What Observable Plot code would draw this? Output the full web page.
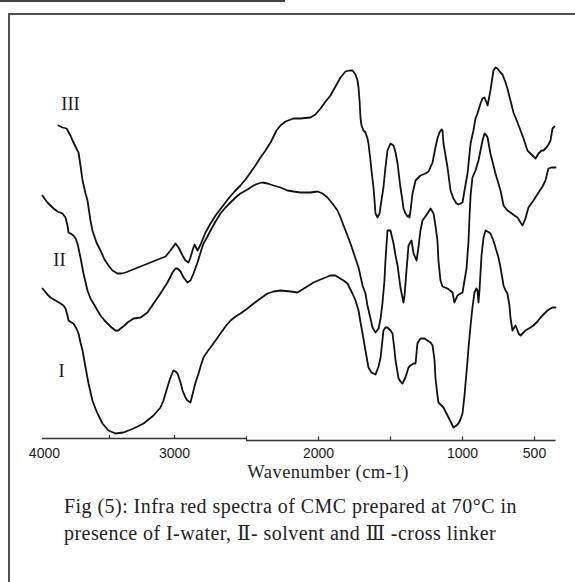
<!DOCTYPE html>
<html>
<head>
<meta charset="utf-8">
<script src="https://cdn.jsdelivr.net/npm/d3@7"></script>
<script src="https://cdn.jsdelivr.net/npm/@observablehq/plot@0.6"></script>
<style>
  html, body { margin: 0; padding: 0; background: #fff; }
  #page { position: relative; width: 575px; height: 582px; overflow: hidden; background: #fff; }
  #topline { position: absolute; left: 0; top: 0; width: 285px; height: 2px; background: #444; }
  #frame { position: absolute; left: 8px; top: 13px; width: 700px; height: 700px;
           border-left: 2px solid #505050; border-top: 2px solid #505050; }
  #chart { position: absolute; left: 0; top: 0; }
  #xlabel { position: absolute; left: 228px; top: 463px; width: 200px; text-align: center;
            font-family: "Liberation Serif", "DejaVu Serif", serif; font-size: 18.5px;
            line-height: 18.5px; letter-spacing: 0.5px; color: #222; white-space: nowrap; }
  #caption { position: absolute; left: 64px; top: 493px; font-family: "Liberation Serif", "DejaVu Serif", serif;
             font-size: 20px; line-height: 27px; letter-spacing: 0.45px; color: #222; white-space: nowrap; }
</style>
</head>
<body>
<div id="page">
  <div id="topline"></div>
  <div id="frame"></div>
  <div id="chart"></div>
  <div id="xlabel"></div>
  <div id="caption"></div>
</div>
<script>
// IR spectra of CMC: [wavenumber (cm-1), transmittance (a.u., curves offset)]
const spectrumIII = [
  [3892,78.75],[3861,78.25],[3830,78],[3800,76.25],[3784,75],[3754,73],[3738,72],[3723,68.75],
  [3707,65],[3684,61.75],[3669,60],[3646,55],[3631,52.5],[3600,49.5],[3569,47.5],[3538,45.25],
  [3508,43.75],[3477,42.5],[3438,41.75],[3408,41.75],[3377,42],[3300,43],[3185,44.5],[3069,46],
  [3031,47.5],[2993,49.25],[2972,48.25],[2944,46.25],[2924,45],[2903,44.5],[2889,45.75],[2875,47.5],
  [2861,49],[2847,48],[2840,47.5],[2819,49],[2785,52],[2750,54.25],[2715,56.25],[2667,58.5],
  [2625,60.5],[2583,62.25],[2542,63.75],[2507,65.25],[2472,67],[2438,68.75],[2403,70.75],[2368,72.5],
  [2333,74.5],[2312,76],[2292,77.5],[2264,78.75],[2229,79.75],[2174,80.5],[2125,80.5],[2056,80.75],
  [2021,81.5],[1986,83],[1951,84.75],[1917,86.25],[1882,88.5],[1847,90.75],[1813,92.25],[1785,92.5],
  [1764,92.5],[1743,91.5],[1729,90],[1722,88.25],[1715,85],[1708,80.5],[1701,78.75],[1688,77.5],
  [1674,77],[1660,75.5],[1653,74.25],[1639,70],[1632,67.5],[1618,63.25],[1611,60],[1604,56.75],
  [1590,55.75],[1576,56.75],[1563,60],[1549,63.25],[1535,68.25],[1521,72.5],[1500,74.25],[1479,73.75],
  [1465,72],[1451,69.25],[1431,63.25],[1417,60],[1410,58],[1396,56.75],[1382,56],[1375,56.25],
  [1368,55.75],[1361,57.5],[1347,61.75],[1326,65],[1292,66.25],[1257,66.75],[1236,67.25],[1208,69.5],
  [1188,73.25],[1174,75.5],[1160,77],[1146,77.75],[1139,77.5],[1132,74.25],[1118,71.25],[1104,68.25],
  [1083,62.5],[1063,60.5],[1042,59.25],[1028,59],[1014,59.25],[1000,59.5],[986,62.5],[965,66.75],
  [944,74.25],[924,77.5],[910,80.5],[896,81.75],[875,84.25],[861,85.5],[847,85.75],[833,84.5],
  [826,83.75],[819,85],[806,87.5],[785,92.5],[771,93.25],[757,93],[736,92],[722,91.5],
  [701,89.5],[688,88],[667,85],[646,82],[618,79.5],[597,77.5],[576,75.5],[549,72.5],
  [528,71.75],[514,71.25],[493,70.5],[472,71.75],[451,72.5],[438,72.5],[417,73.25],[403,74],
  [389,75],[375,78],[361,78.5]
];

const spectrumII = [
  [4015,61.25],[4000,60.5],[3977,59.5],[3954,58.75],[3930,58],[3900,57.25],[3861,56.75],[3838,55.75],
  [3823,53.75],[3815,52],[3800,51.75],[3777,51.25],[3761,50.5],[3746,49.25],[3723,45.75],[3700,41.75],
  [3669,37.5],[3646,35.5],[3623,34.25],[3592,32.5],[3569,31.25],[3538,30],[3515,29.25],[3484,28.25],
  [3454,27.5],[3431,27.5],[3415,28],[3384,28.75],[3361,29.5],[3315,30.5],[3261,30.75],[3208,32],
  [3161,34.25],[3108,36.75],[3054,39.5],[3015,42],[2993,43],[2979,43],[2958,42.25],[2937,40.75],
  [2910,39.5],[2889,40],[2868,41.75],[2840,44.5],[2819,47],[2799,49.25],[2771,51],[2750,52.5],
  [2715,54.75],[2681,56.75],[2646,58.25],[2611,59.5],[2576,60.75],[2542,61.75],[2493,62.75],[2451,63.75],
  [2417,64.25],[2389,64.5],[2354,64.25],[2312,63.75],[2264,63.25],[2215,62.5],[2174,62.25],[2125,62],
  [2056,62],[2007,62.25],[1972,61.75],[1938,60.75],[1903,59.25],[1868,57.5],[1847,55.75],[1826,53.75],
  [1799,51.25],[1778,49.25],[1750,46.25],[1722,43.25],[1694,38.75],[1674,36.75],[1660,33.75],[1639,30.5],
  [1625,28.25],[1604,27],[1583,28],[1569,30.5],[1556,34.25],[1542,40],[1535,45],[1528,48.75],
  [1521,52.5],[1500,52.5],[1479,49.25],[1465,46.25],[1451,43.75],[1431,38.25],[1417,35.75],[1410,34.5],
  [1403,36],[1396,39.25],[1389,42.5],[1382,45.5],[1375,48.75],[1354,50],[1340,46.75],[1319,45],
  [1306,48.25],[1292,52.5],[1278,55],[1243,56.75],[1222,58],[1201,56.75],[1188,53.75],[1174,50],
  [1167,45],[1153,40],[1139,38.5],[1104,38],[1069,37],[1056,34.5],[1035,36.25],[1014,36.75],
  [1000,37],[986,40],[972,43],[958,50],[951,56.25],[944,61.25],[931,65.75],[910,67.5],
  [889,70],[875,72.5],[861,75],[847,76.75],[833,76.25],[826,75.75],[806,71.75],[785,68.75],
  [771,66.75],[736,62.5],[715,58.75],[688,57.5],[667,57],[639,56.25],[618,55.75],[597,54.5],
  [583,53.75],[563,55.5],[542,58.25],[507,60],[472,62],[444,63.5],[424,65],[403,68],
  [382,68.25],[354,68.25]
];

const spectrumI = [
  [4015,38],[3984,36.75],[3954,35.75],[3915,35],[3877,34.25],[3854,33.75],[3838,33],[3823,31.25],
  [3815,30],[3792,29.5],[3777,29.25],[3754,28],[3738,26.75],[3723,24.5],[3707,22.5],[3684,18.25],
  [3661,14.25],[3631,10],[3608,8],[3592,6.75],[3554,4.25],[3508,2.5],[3454,1.75],[3392,2],
  [3315,3],[3238,4.25],[3161,6.25],[3108,8.25],[3085,10],[3069,11.75],[3046,14.25],[3031,15.75],
  [3008,17.5],[2993,17.25],[2979,16.75],[2958,14.5],[2944,12.5],[2924,10.75],[2910,10],[2889,9.5],
  [2868,12.5],[2854,14.5],[2833,16.75],[2819,18.5],[2799,20.75],[2771,22.25],[2750,23.25],[2715,25],
  [2681,26.75],[2646,28.5],[2611,30],[2576,31],[2542,31.75],[2493,33],[2451,34.25],[2403,35.5],
  [2354,36.75],[2312,37.25],[2264,37.5],[2194,37.25],[2146,37],[2090,38.25],[2035,39.5],[1986,40.25],
  [1917,41.25],[1882,41.25],[1861,40.75],[1826,40],[1799,39.25],[1764,36.75],[1743,35],[1722,32.5],
  [1708,29.5],[1694,26.75],[1674,22.5],[1653,18.25],[1632,17],[1604,16.5],[1583,18.5],[1569,20.75],
  [1556,25],[1549,27.5],[1535,28.25],[1521,28.25],[1500,27.5],[1486,26.75],[1472,22.5],[1465,20],
  [1451,17],[1444,15.5],[1431,14.75],[1417,14.25],[1396,15.75],[1375,18.25],[1361,18.75],[1340,19.25],
  [1326,19.25],[1319,22],[1313,24.25],[1292,25.5],[1264,25.5],[1243,25],[1222,24.5],[1208,23.75],
  [1194,20],[1188,15.75],[1174,11.25],[1167,9.5],[1153,9],[1132,8.25],[1111,6.75],[1097,5.75],
  [1076,4.25],[1063,3.25],[1042,3.75],[1028,4.25],[1014,5.25],[1000,6.75],[986,11.25],[979,14.25],
  [965,20],[958,23.25],[944,28.75],[931,33.25],[917,37],[903,38],[896,37.5],[889,34.5],
  [882,37.5],[868,46.25],[854,50.75],[840,52.5],[826,52.25],[806,51.75],[785,50],[771,48.25],
  [750,45.75],[736,43.25],[715,38.75],[701,37.5],[688,36.75],[674,33.75],[667,30.75],[653,27.5],
  [632,28.75],[618,27.5],[611,26.75],[597,26.25],[576,27],[563,27.5],[528,28.25],[507,28.75],
  [479,29.75],[458,30.75],[431,31.75],[410,32.5],[389,33],[375,33.25],[354,33.25]
];

// Curve names and where they sit beside each trace
const seriesNames = ["III", "II", "I"];
const seriesLabelAt = [[3800, 84], [3885, 45], [3869, 17.25]];

// Wavenumber axis: labelled values and tick marks (the instrument changes scale at 2500)
const tickLabels = [4000, 3000, 2000, 1000, 500];
const ticksHigh = [3500, 3000];
const ticksLow = [2500, 2000, 1500, 1000, 500];

const labelData = seriesNames.map((name, i) => ({name, w: seriesLabelAt[i][0], t: seriesLabelAt[i][1]}));

const ink = "#111";
const axisInk = "#333";

const chart = Plot.plot({
  width: 575,
  height: 470,
  marginLeft: 42,
  marginRight: 19,
  marginTop: 0,
  marginBottom: 30,
  x: {type: "linear", domain: [4015, 3000, 350], range: [42, 174, 555.6]},
  y: {domain: [0, 110], axis: null},
  marks: [
    // axis baseline: upper segment 4000–2500, lower segment 2500–350
    Plot.ruleY([0], {x1: 4015, x2: 2500, dy: -2, stroke: axisInk, strokeWidth: 1.4}),
    Plot.ruleY([0], {x1: 2500, x2: 350, stroke: axisInk, strokeWidth: 1.4}),
    Plot.ruleX(ticksHigh, {y1: 0, y2: 0.75, dy: -2, stroke: axisInk, strokeWidth: 1.3}),
    Plot.ruleX(ticksLow, {y1: 0, y2: 0.9, stroke: axisInk, strokeWidth: 1.3}),
    Plot.axisX(tickLabels, {
      tickSize: 0, tickPadding: 7.5, label: null,
      tickFormat: d => `${d}`,
      fontFamily: "'Liberation Sans', Arial, sans-serif", fontSize: 14, fill: "#1a1a1a"
    }),
    Plot.line(spectrumIII, {x: d => d[0], y: d => d[1], stroke: ink, strokeWidth: 1.8}),
    Plot.line(spectrumII, {x: d => d[0], y: d => d[1], stroke: ink, strokeWidth: 1.8}),
    Plot.line(spectrumI, {x: d => d[0], y: d => d[1], stroke: ink, strokeWidth: 1.8}),
    Plot.text(labelData, {
      x: "w", y: "t", text: "name",
      fontFamily: "'Liberation Serif', 'DejaVu Serif', serif", fontSize: 18.5, fill: "#1a1a1a"
    })
  ]
});
document.getElementById("chart").appendChild(chart);

document.getElementById("xlabel").textContent = "Wavenumber (cm-1)";
const captionLines = [
  "Fig (5): Infra red spectra of CMC prepared at 70°C in",
  "presence of I-water, Ⅱ- solvent and Ⅲ -cross linker"
];
const cap = document.getElementById("caption");
captionLines.forEach(line => {
  const div = document.createElement("div");
  div.textContent = line;
  cap.appendChild(div);
});
</script>
</body>
</html>
